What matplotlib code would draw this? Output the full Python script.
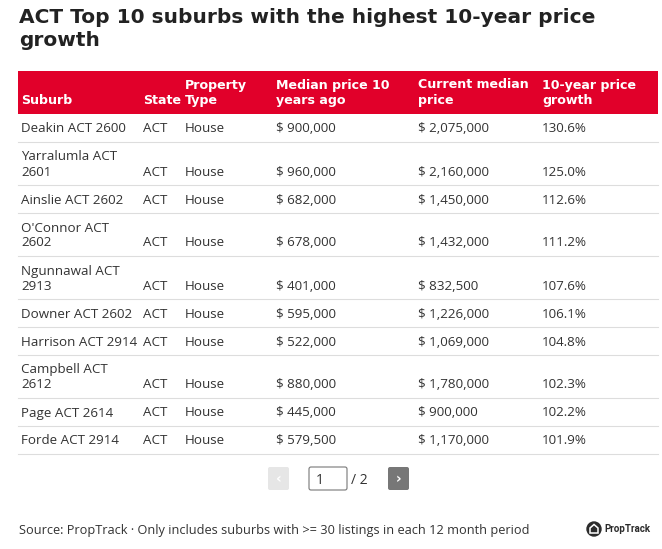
import matplotlib
matplotlib.use("Agg")
import matplotlib.pyplot as plt
from matplotlib.patches import Rectangle, FancyBboxPatch, Circle, Polygon

# ---------------- data ----------------
title = "ACT Top 10 suburbs with the highest 10-year price\ngrowth"
headers = ["Suburb", "State", "Property\nType", "Median price 10\nyears ago",
           "Current median\nprice", "10-year price\ngrowth"]
suburbs = ["Deakin ACT 2600", "Yarralumla ACT\n2601", "Ainslie ACT 2602",
           "O'Connor ACT\n2602", "Ngunnawal ACT\n2913", "Downer ACT 2602",
           "Harrison ACT 2914", "Campbell ACT\n2612", "Page ACT 2614",
           "Forde ACT 2914"]
states = ["ACT"] * 10
prop_types = ["House"] * 10
price_10y_ago = [900000, 960000, 682000, 678000, 401000, 595000, 522000,
                 880000, 445000, 579500]
price_now = [2075000, 2160000, 1450000, 1432000, 832500, 1226000, 1069000,
             1780000, 900000, 1170000]
growth_pct = [130.6, 125.0, 112.6, 111.2, 107.6, 106.1, 104.8, 102.3,
              102.2, 101.9]
footer = "Source: PropTrack · Only includes suburbs with >= 30 listings in each 12 month period"

# ---------------- layout ----------------
W, H = 662, 549
fig = plt.figure(figsize=(W / 100, H / 100), dpi=100)
ax = fig.add_axes([0, 0, 1, 1])
ax.set_xlim(0, W)
ax.set_ylim(H, 0)
ax.axis("off")

BODY = "Open Sans"
TXT = "#333333"
RED = "#e1002a"

ax.text(19, 8, title, fontsize=14.5, fontweight="bold", family="DejaVu Sans",
        color="#222222", va="top", ha="left", linespacing=1.3)

x0, x1 = 18, 658
col_x = [21, 143, 185, 276, 418, 542]

# header
hy0, hy1 = 71, 114
ax.add_patch(Rectangle((x0, hy0), x1 - x0, hy1 - hy0, color=RED, lw=0))
for cx, h in zip(col_x, headers):
    ax.text(cx, 104, h, fontsize=9.1, fontweight="bold", family="DejaVu Sans",
            color="white", va="baseline", ha="left", linespacing=1.25)

# rows
y = hy1
for i in range(len(suburbs)):
    nlines = suburbs[i].count("\n") + 1
    rh = 28 + 15 * (nlines - 1)
    base = y + rh - 9.5
    cells = [suburbs[i], states[i], prop_types[i],
             "$ {:,}".format(price_10y_ago[i]), "$ {:,}".format(price_now[i]),
             "{:.1f}%".format(growth_pct[i])]
    for cx, c in zip(col_x, cells):
        ax.text(cx, base, c, fontsize=9.6, family=BODY, color=TXT,
                va="baseline", ha="left", linespacing=1.2)
    y += rh
    ax.plot([x0, x1], [y, y], color="#dddddd", lw=0.8)

# pagination
ax.add_patch(FancyBboxPatch((268, 467), 21, 23, boxstyle="round,pad=0,rounding_size=2",
                            fc="#e6e6e6", ec="none"))
ax.text(278.5, 479, "‹", fontsize=10, fontweight="bold", color="white",
        ha="center", va="center", family="DejaVu Sans")
ax.add_patch(FancyBboxPatch((309, 467), 38, 23, boxstyle="round,pad=0,rounding_size=2",
                            fc="white", ec="#777777", lw=0.8))
ax.text(316, 484, "1", fontsize=10, family=BODY, color=TXT, va="baseline")
ax.text(351, 484, "/ 2", fontsize=10, family=BODY, color=TXT, va="baseline")
ax.add_patch(FancyBboxPatch((388, 467), 21, 23, boxstyle="round,pad=0,rounding_size=2",
                            fc="#777777", ec="none"))
ax.text(398.5, 479, "›", fontsize=10, fontweight="bold", color="white",
        ha="center", va="center", family="DejaVu Sans")

# footer
ax.text(19, 534, footer, fontsize=9.2, family=BODY, color=TXT, va="baseline")
ax.add_patch(Circle((594, 529), 7, color="#2b2b2b"))
ax.add_patch(Polygon([(590, 533), (590, 528), (594, 524.5), (598, 528), (598, 533)],
                     closed=True, fc="none", ec="white", lw=1.1))
ax.text(604, 532.5, "PropTrack", fontsize=7, fontweight="bold", family="Roboto",
        color="#2b2b2b", va="baseline")

fig.savefig("out.png", dpi=100)
